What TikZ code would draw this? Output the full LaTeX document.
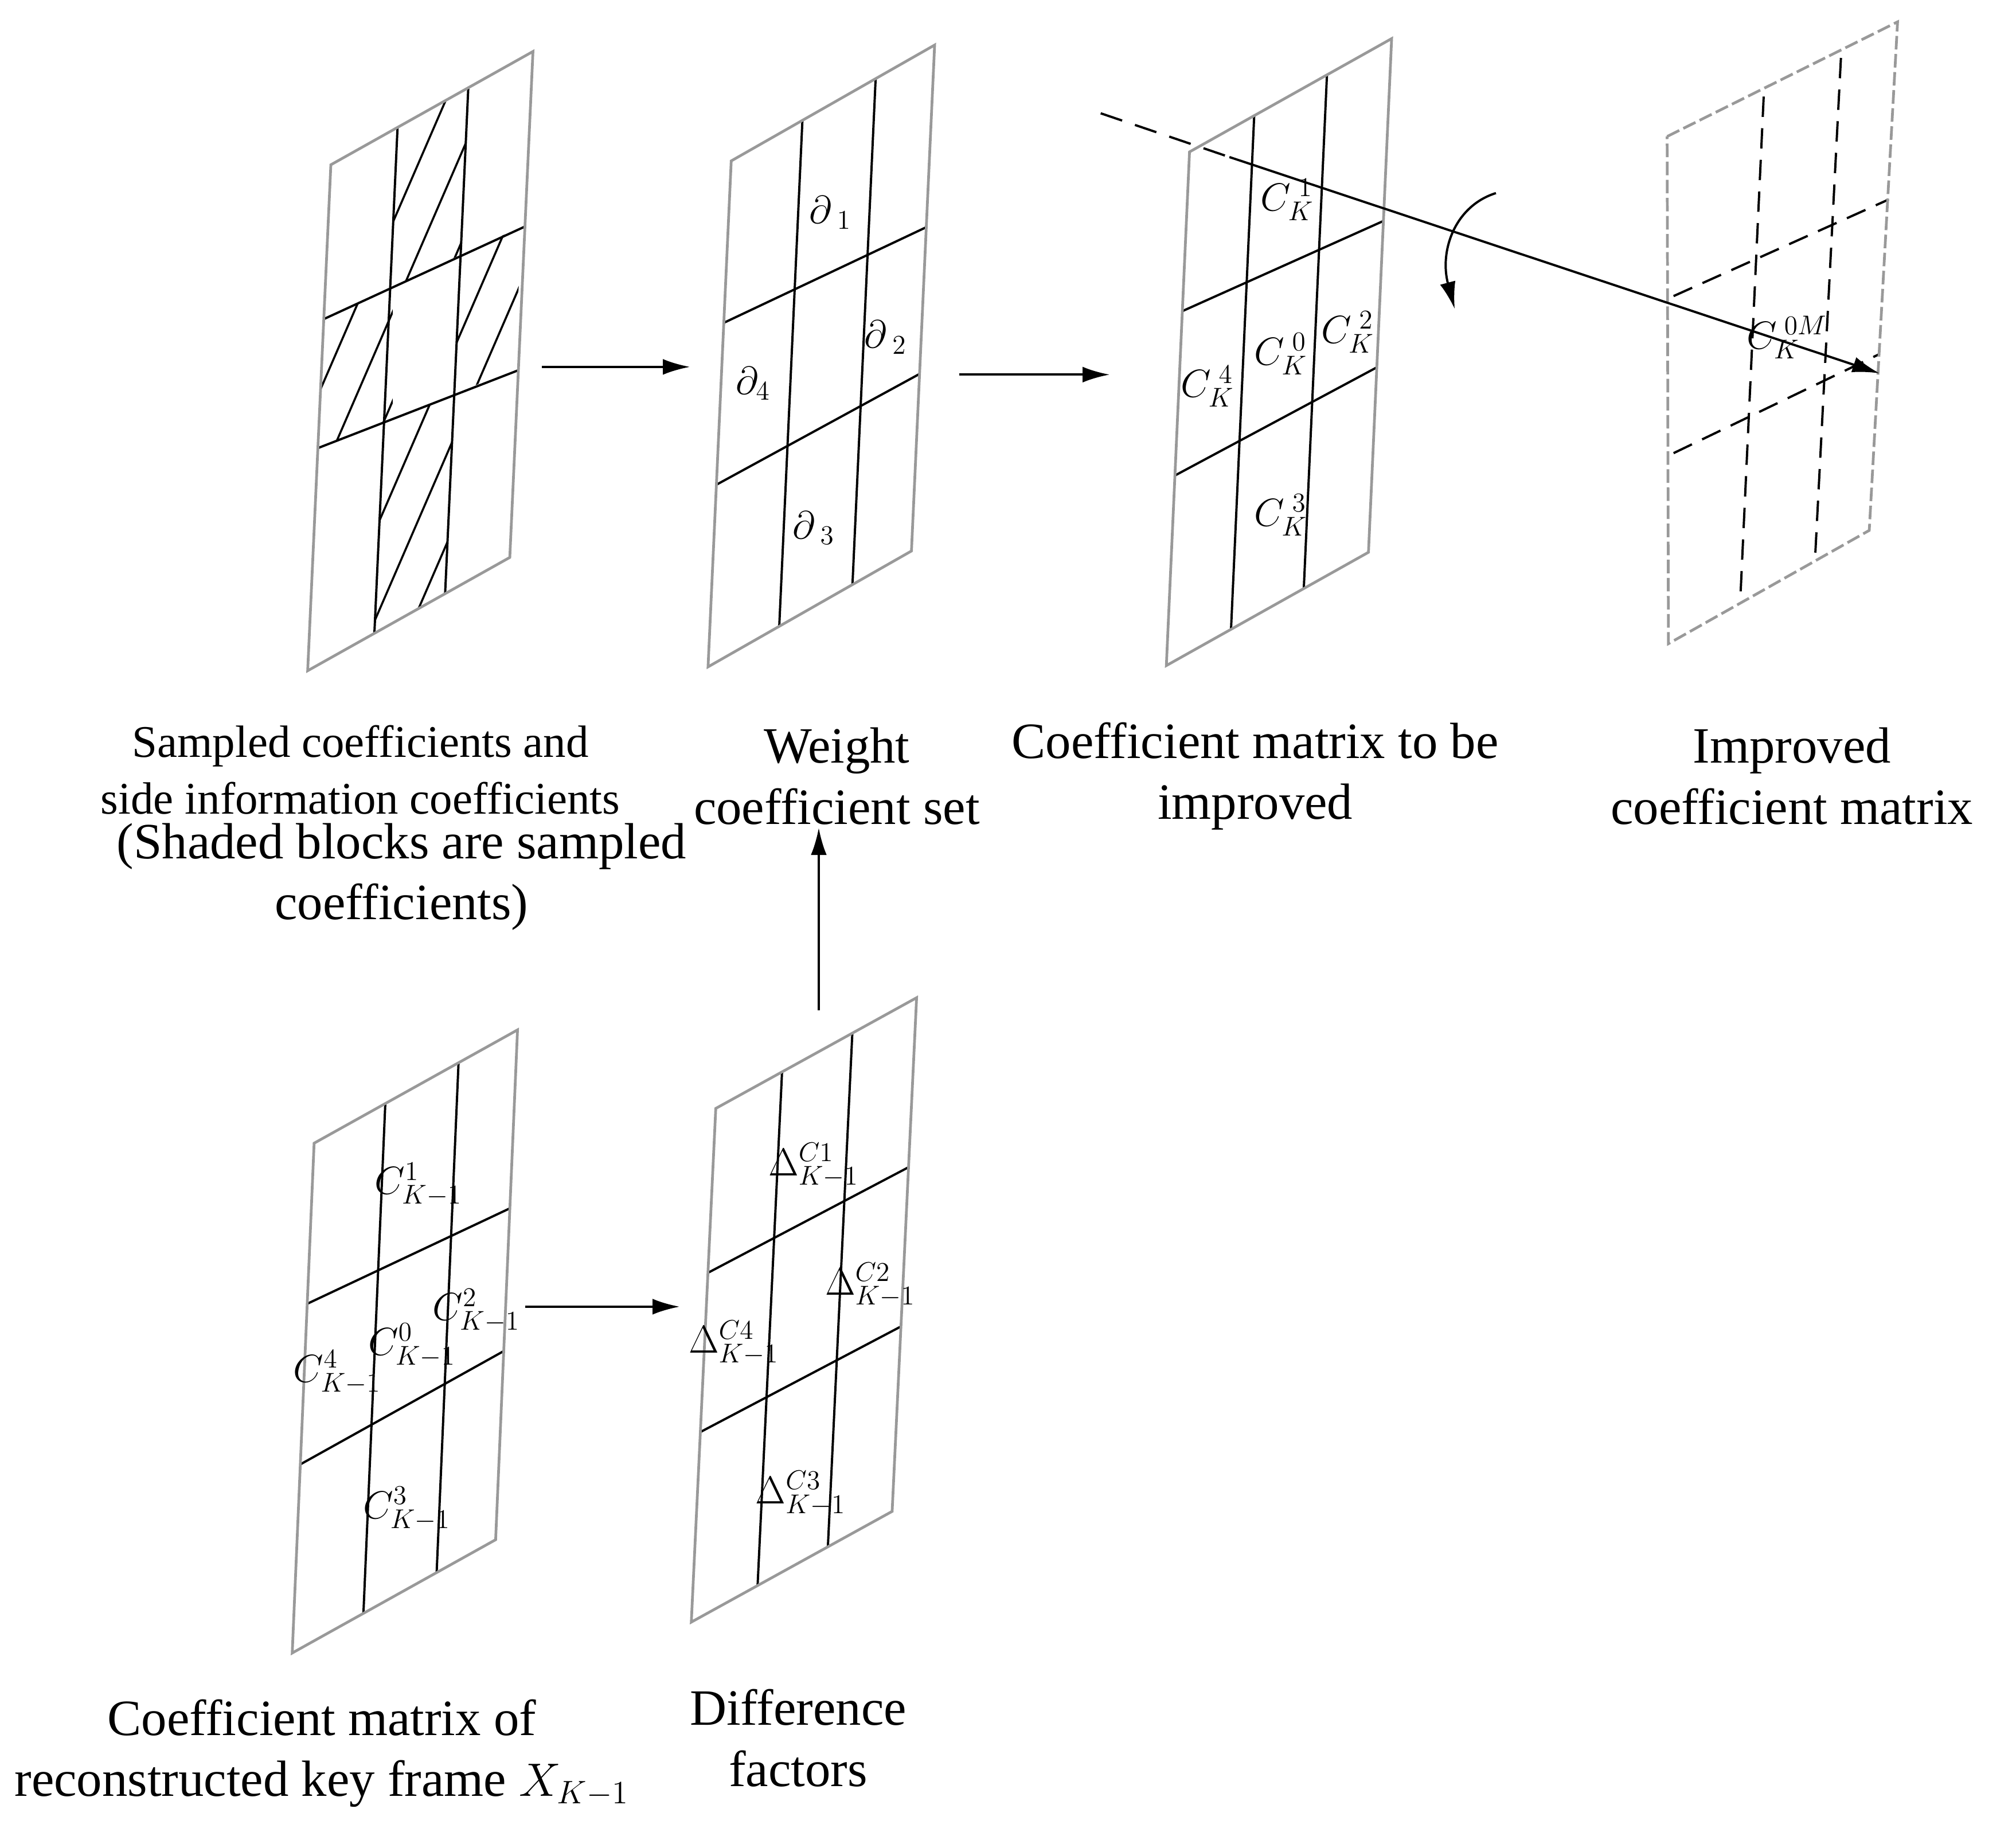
\documentclass[tikz,border=0pt]{standalone}
\usepackage{fontspec}
\setmainfont{Liberation Serif}
\usetikzlibrary{arrows.meta,calc}
\begin{document}
\begin{tikzpicture}[x=0.02cm,y=-0.02cm,
  border/.style={draw=gray!80,line width=1.2pt},
  grid/.style={draw=black,line width=1pt},
  dgrid/.style={grid,dash pattern=on 9pt off 5pt},
  arr/.style={-{Latex[length=12pt,width=7pt]},line width=1pt},
  hatch/.style={line width=0.9pt},
  lab/.style={font=\fontsize{22.5}{27}\selectfont,align=center},
  mlab/.style={font=\fontsize{16.5}{19}\selectfont}]
\useasboundingbox (0,0) rectangle (1566,1429);
\newcommand\mypanel[9]{%
  \def\tlx{#1}\def\tly{#2}%
  \pgfmathsetmacro\ux{#3-#1}\pgfmathsetmacro\uy{#4-#2}%
  \pgfmathsetmacro\vx{#5-#1}\pgfmathsetmacro\vy{#6-#2}%
  \draw[#9] (#1+#7*\ux,#2+#7*\uy) -- (#1+#7*\ux+\vx,#2+#7*\uy+\vy);
  \draw[#9] (#1+#8*\ux,#2+#8*\uy) -- (#1+#8*\ux+\vx,#2+#8*\uy+\vy);
}
\newcommand\myhl[5]{%
  \draw[#5] (\tlx+#1*\vx,\tly+#1*\vy) -- (\tlx+#2*\vx+\ux,\tly+#2*\vy+\uy);
  \draw[#5] (\tlx+#3*\vx,\tly+#3*\vy) -- (\tlx+#4*\vx+\ux,\tly+#4*\vy+\uy);
}
\newcommand\myborder[7]{%
  \pgfmathsetmacro\bx{#3+#5-#1}\pgfmathsetmacro\by{#4+#6-#2}%
  \draw[#7] (#1,#2) -- (#3,#4) -- (\bx,\by) -- (#5,#6) -- cycle;}
\newcommand\myhlines{\foreach \s in {-300,-270,...,700} \draw[hatch] (\s,600) -- (\s+260,0);}

% panel 1
\mypanel{257}{128}{414}{40}{239}{521}{0.33}{0.68}{grid}
\myhl{0.305}{0.346}{0.56}{0.63}{grid}
\begin{scope}
\clip (252,248) -- (405,176) -- (400,287) -- (247,348) -- cycle;
\clip (0,0) rectangle (305,600) (355,0) rectangle (600,600);
\myhlines
\end{scope}
\begin{scope}
\clip (257,128) -- (414,40) -- (396,433) -- (239,521) -- cycle;
\clip (309,99) -- (364,68) -- (346,461) -- (291,492) -- cycle;
\clip (0,0) -- (600,0) -- (600,84) -- (0,366) -- cycle;
\myhlines
\end{scope}
\begin{scope}
\clip (257,128) -- (414,40) -- (396,433) -- (239,521) -- cycle;
\clip (309,99) -- (364,68) -- (346,461) -- (291,492) -- cycle;
\clip (0,447) -- (600,209) -- (600,600) -- (0,600) -- cycle;
\myhlines
\end{scope}
\myborder{257}{128}{414}{40}{239}{521}{border}
% panel 2
\mypanel{568}{125}{726}{35}{550}{518}{0.35}{0.71}{grid}
\myhl{0.32}{0.36}{0.64}{0.65}{grid}
\myborder{568}{125}{726}{35}{550}{518}{border}
% panel 3
\mypanel{924}{118}{1081}{30}{906}{517}{0.32}{0.68}{grid}
\myhl{0.31}{0.355}{0.63}{0.64}{grid}
\myborder{924}{118}{1081}{30}{906}{517}{border}
% panel 4
\coordinate (q4tl) at (1295,106); \coordinate (q4tr) at (1474,17);
\coordinate (q4br) at (1452,412); \coordinate (q4bl) at (1296,500);
\draw[dgrid] (1370,75) -- (1352,462);
\draw[dgrid] (1430,45) -- (1410,432);
\draw[dgrid] (1300,230) -- (1467,155);
\draw[dgrid] (1300,352) -- (1460,275);
\draw[border,dash pattern=on 6pt off 2pt] (q4tl) -- (q4tr) -- (q4br) -- (q4bl) -- cycle;
% panel 5
\mypanel{244}{888}{402}{800}{227}{1284}{0.35}{0.71}{grid}
\myhl{0.315}{0.35}{0.63}{0.63}{grid}
\myborder{244}{888}{402}{800}{227}{1284}{border}
% panel 6
\mypanel{556}{861}{712}{775}{537}{1260}{0.33}{0.68}{grid}
\myhl{0.32}{0.33}{0.63}{0.64}{grid}
\myborder{556}{861}{712}{775}{537}{1260}{border}

% arrows
\coordinate (a1s) at (421,285); \coordinate (a1e) at (536,285);
\coordinate (a2s) at (745,291); \coordinate (a2e) at (862,291);
\coordinate (a3s) at (636,785); \coordinate (a3e) at (636,643);
\coordinate (a4s) at (408,1015); \coordinate (a4e) at (528,1015);
\draw[arr] (a1s) -- (a1e);
\draw[arr] (a2s) -- (a2e);
\draw[arr] (a3s) -- (a3e);
\draw[arr] (a4s) -- (a4e);
\coordinate (l0) at (855,88); \coordinate (l1) at (955,122); \coordinate (l2) at (1460,290);
\draw[line width=1pt,dash pattern=on 10pt off 6pt] (l0) -- (l1);
\draw[arr] (l1) -- (l2);
\coordinate (c0) at (1162,150); \coordinate (c1) at (1130,240);
\draw[arr] (c0) .. controls (1130,160) and (1118,195) .. (c1);

% labels
\node[lab,font=\fontsize{20}{25}\selectfont] (t1) at (280,598) {Sampled coefficients and\\side information coefficients};
\node[lab] (t1b) at (312,681) {(Shaded blocks are sampled\\coefficients)};
\node[lab] (t2) at (650,603) {Weight\\coefficient set};
\node[lab] (t3) at (975,603) {Coefficient matrix to be\\improved};
\node[lab] (t4) at (1392,603) {Improved\\coefficient matrix};
\node[lab] (t5) at (250,1362) {Coefficient matrix of\\reconstructed key frame $X_{K-1}$};
\node[lab] (t6) at (620,1350) {Difference\\factors};

% cell math labels
\node[mlab] (d1) at (645,165) {$\partial_{\;1}$};
\node[mlab] (d2) at (688,262) {$\partial_{\;2}$};
\node[mlab] (d4) at (585,298) {$\partial_{4}$};
\node[mlab] (d3) at (632,410) {$\partial_{\;3}$};
\node[mlab] (k1) at (1000,155) {$C^{\;1}_{K}$};
\node[mlab] (k4) at (938,300) {$C^{\;4}_{K}$};
\node[mlab] (k0) at (995,275) {$C^{\;0}_{K}$};
\node[mlab] (k2) at (1047,258) {$C^{\;2}_{K}$};
\node[mlab] (k3) at (995,400) {$C^{\;3}_{K}$};
\node[mlab] (km) at (1388,262) {$C^{\;0M}_{K}$};
\node[mlab] (p1) at (325,920) {$C^{1}_{K-1}$};
\node[mlab] (p4) at (262,1066) {$C^{4}_{K-1}$};
\node[mlab] (p0) at (320,1045) {$C^{0}_{K-1}$};
\node[mlab] (p2) at (370,1018) {$C^{2}_{K-1}$};
\node[mlab] (p3) at (316,1172) {$C^{3}_{K-1}$};
\node[mlab] (q1) at (632,905) {$\Delta^{C1}_{K-1}$};
\node[mlab] (q2) at (676,998) {$\Delta^{C2}_{K-1}$};
\node[mlab] (q4) at (570,1043) {$\Delta^{C4}_{K-1}$};
\node[mlab] (q3) at (622,1160) {$\Delta^{C3}_{K-1}$};
\end{tikzpicture}
\end{document}
